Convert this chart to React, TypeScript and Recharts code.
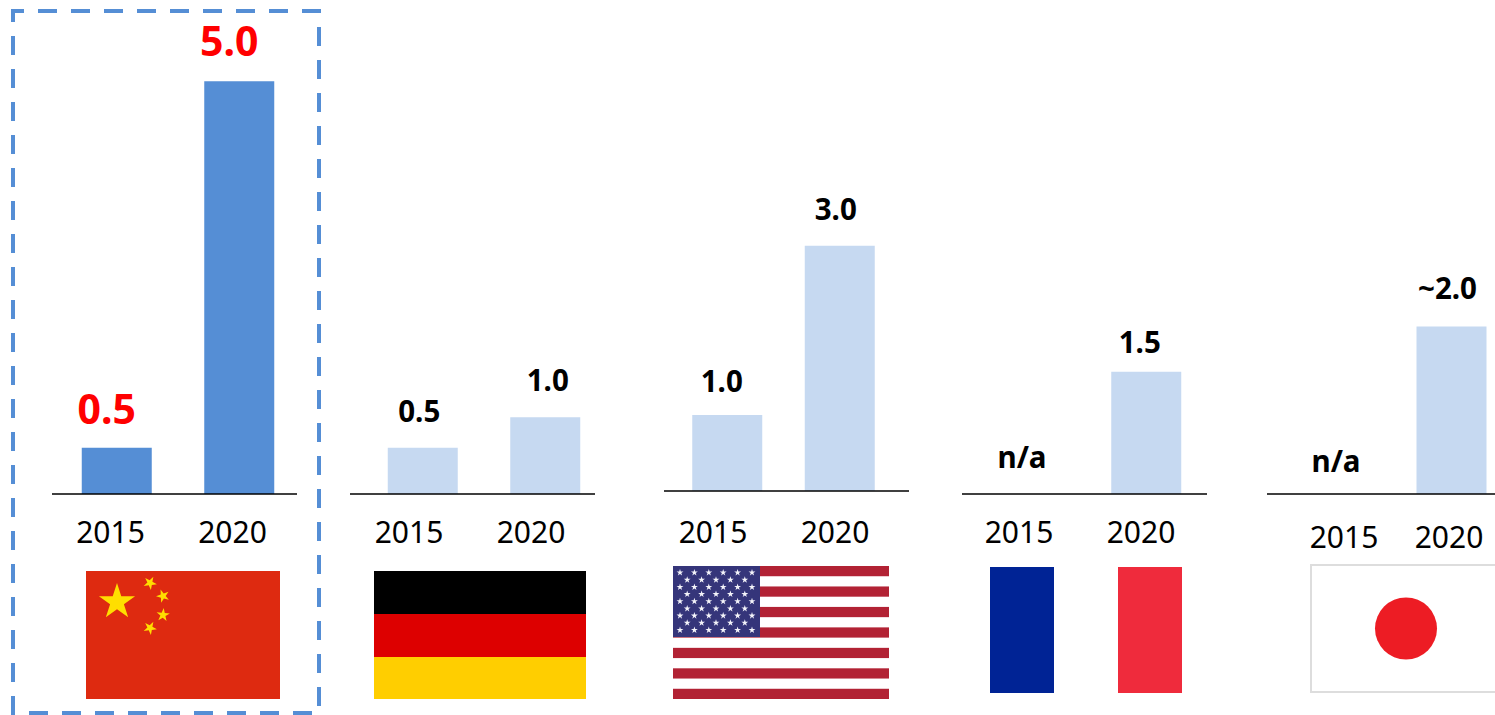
import React from 'react';
import { BarChart, Bar, XAxis, YAxis, ReferenceDot } from 'recharts';

const years = ['2015', '2020'];
const chinaValues = [0.56, 5.0];
const germanyValues = [0.56, 0.93];
const usaValues = [0.92, 2.97];
const franceValues = [null, 1.48];
const japanValues = [null, 2.03];
const chinaLabels = ['0.5', '5.0'];
const germanyLabels = ['0.5', '1.0'];
const usaLabels = ['1.0', '3.0'];
const franceLabels = ['n/a', '1.5'];
const japanLabels = ['n/a', '~2.0'];

const DARK = '#558ED5';
const LIGHT = '#C6D9F1';
const FONT = '"Noto Sans", sans-serif';
const PLOT_H = 454;
const TOP_M = 40;
const AXIS_H = 70;
const MAX_V = 5.5;

type Panel = {
  values: (number | null)[]; labels: string[]; left: number; axisY: number; centers: number[];
  labelDx: number[]; labelGap: number[]; tickDx: number[]; tickY: number; fill: string; labelFill: string; labelSize: number;
};

const panels: Panel[] = [
  { values: chinaValues, labels: chinaLabels, left: 52, axisY: 494, centers: [117, 239.5], labelDx: [-10, -10], labelGap: [24, 25], tickDx: [-6.5, -7], tickY: 40, fill: DARK, labelFill: '#FF0000', labelSize: 41 },
  { values: germanyValues, labels: germanyLabels, left: 350, axisY: 494, centers: [423, 545.5], labelDx: [-3.5, 2.5], labelGap: [26, 26], tickDx: [-14, -14.5], tickY: 40, fill: LIGHT, labelFill: '#000', labelSize: 29.5 },
  { values: usaValues, labels: usaLabels, left: 664, axisY: 491, centers: [727.5, 840], labelDx: [-5.5, -4], labelGap: [23, 26], tickDx: [-14.5, -5], tickY: 43, fill: LIGHT, labelFill: '#000', labelSize: 29.5 },
  { values: franceValues, labels: franceLabels, left: 962, axisY: 494, centers: [1024, 1146.5], labelDx: [-2, -6.5], labelGap: [26, 19], tickDx: [-5, -5.5], tickY: 40, fill: LIGHT, labelFill: '#000', labelSize: 29.5 },
  { values: japanValues, labels: japanLabels, left: 1267, axisY: 494, centers: [1346, 1451], labelDx: [-10, -4], labelGap: [22, 27], tickDx: [-2, -2], tickY: 45, fill: LIGHT, labelFill: '#000', labelSize: 29.5 },
];

const AXIS_W = 245;

function ChartPanel({ p }: { p: Panel }) {
  const data = years.map((year, i) => ({ year, value: p.values[i] }));
  const band = p.centers[1] - p.centers[0];
  const padLeft = p.centers[0] - band / 2 - p.left;
  const padRight = p.left + AXIS_W - (p.centers[1] + band / 2);
  const renderLabel = (props: any) => {
    const { x, y, width, value } = props;
    const index = p.values.indexOf(value);
    if (index < 0 || value == null) return null;
    return (
      <text key={index} x={x + width / 2 + p.labelDx[index]} y={y - p.labelGap[index]} textAnchor="middle"
        fontFamily={FONT} fontWeight={700} fontSize={p.labelSize} fill={p.labelFill}>{p.labels[index]}</text>
    );
  };
  const renderTick = (props: any) => {
    const { x, payload, index } = props;
    return (
      <text x={x + p.tickDx[index]} y={TOP_M + PLOT_H + p.tickY + 9} textAnchor="middle"
        fontFamily={FONT} fontSize={30} fill="#000">{payload.value}</text>
    );
  };
  return (
    <div style={{ position: 'absolute', left: p.left, top: p.axisY - PLOT_H - TOP_M }}>
      <BarChart width={AXIS_W} height={TOP_M + PLOT_H + AXIS_H} data={data}
        margin={{ top: TOP_M, right: 0, bottom: 0, left: 0 }} barCategoryGap={0}>
        <YAxis hide domain={[0, MAX_V]} type="number" allowDataOverflow />
        <XAxis dataKey="year" height={AXIS_H} interval={0} tickLine={false}
          axisLine={{ stroke: '#000', strokeWidth: 1.5 }} padding={{ left: padLeft, right: padRight }} tick={renderTick} />
        <Bar dataKey="value" fill={p.fill} barSize={70} isAnimationActive={false} label={renderLabel} />
        {years.map((year, i) => p.values[i] == null ? (
          <ReferenceDot key={year} x={year} y={0} ifOverflow="visible" r={0}
            shape={(s: any) => (
              <text x={s.cx + p.labelDx[i]} y={s.cy - p.labelGap[i]} textAnchor="middle"
                fontFamily={FONT} fontWeight={700} fontSize={p.labelSize} fill={p.labelFill}>{p.labels[i]}</text>
            )} />
        ) : null)}
      </BarChart>
    </div>
  );
}

function starPoints(cx: number, cy: number, R: number, rot = 0) {
  const pts: string[] = [];
  for (let i = 0; i < 10; i++) {
    const r = i % 2 === 0 ? R : R * 0.382;
    const a = -Math.PI / 2 + rot + (i * Math.PI) / 5;
    pts.push(`${cx + r * Math.cos(a)},${cy + r * Math.sin(a)}`);
  }
  return pts.join(' ');
}

const smallStars = [[150, 583, 0.5], [163, 596, 0.9], [163, 615, 0.1], [150, 628, 0.5]];

function Flags() {
  const stripeH = 133 / 13;
  const stripes = Array.from({ length: 13 }, (_, i) => i).filter((i) => i % 2 === 0);
  const usStars: [number, number][] = [];
  for (let row = 0; row < 9; row++) {
    const count = row % 2 === 0 ? 6 : 5;
    for (let c = 0; c < count; c++) usStars.push([680 + c * 14.4 + (row % 2 ? 7.2 : 0), 572.7 + row * 7.17]);
  }
  return (
    <svg width={1495} height={715} style={{ position: 'absolute', left: 0, top: 0 }}>
      <rect x={13} y={11} width={306} height={702} fill="none" stroke={DARK} strokeWidth={4} strokeDasharray="19 14" strokeDashoffset={8} />
      {/* China */}
      <rect x={86} y={571} width={194} height={128} fill="#DE2A10" />
      <polygon points={starPoints(117, 602, 19)} fill="#FFDE00" />
      {smallStars.map(([x, y, r]) => <polygon key={`${x}-${y}`} points={starPoints(x, y, 7, r)} fill="#FFDE00" />)}
      {/* Germany */}
      <rect x={374} y={571} width={212} height={43} fill="#000" />
      <rect x={374} y={614} width={212} height={43} fill="#DD0000" />
      <rect x={374} y={657} width={212} height={42} fill="#FFCE00" />
      {/* USA */}
      {stripes.map((i) => <rect key={i} x={673} y={566 + i * stripeH} width={216} height={stripeH} fill="#B22234" />)}
      <rect x={673} y={566} width={87} height={71} fill="#35357A" />
      {usStars.map(([x, y]) => <polygon key={`${x}-${y}`} points={starPoints(x, y, 3.6)} fill="#F4F4FA" />)}
      {/* France */}
      <rect x={990} y={567} width={64} height={126} fill="#002395" />
      <rect x={1118} y={567} width={64} height={126} fill="#EF2B3C" />
      {/* Japan */}
      <rect x={1311} y={565} width={220} height={127} fill="#fff" stroke="#DDDDDD" strokeWidth={2} />
      <circle cx={1406} cy={628.5} r={31} fill="#ED1C24" />
    </svg>
  );
}

export default function App() {
  return (
    <div style={{ position: 'absolute', left: 0, top: 0, width: 1495, height: 715, overflow: 'hidden', background: '#fff' }}>
      <Flags />
      {panels.map((p) => <ChartPanel key={p.left} p={p} />)}
    </div>
  );
}
